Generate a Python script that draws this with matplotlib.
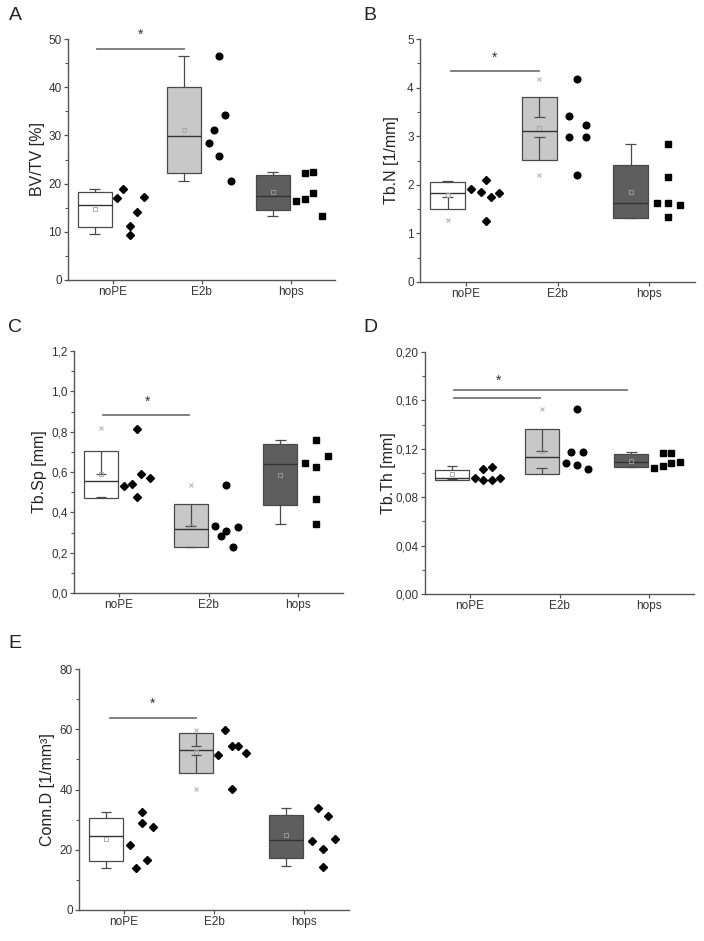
import numpy as np
import matplotlib.pyplot as plt
from matplotlib.ticker import MultipleLocator, FuncFormatter

plt.rcParams['font.family'] = ['Liberation Sans', 'DejaVu Sans']

groups = ["noPE", "E2b", "hops"]

# ---- A: BV/TV [%]
bvtv_pts = [[17.0, 18.8, 11.2, 9.4, 14.2, 17.2],
            [28.5, 31.2, 46.5, 25.8, 34.2, 20.6],
            [16.3, 22.3, 16.8, 22.4, 18.0, 13.2]]
bvtv_box = [[10.9, 15.6, 18.35], [22.2, 29.85, 40.0], [14.5, 17.4, 21.8]]   # q1, median, q3
bvtv_whisk = [[9.5, 18.8], [20.5, 46.5], [13.2, 22.4]]
bvtv_mean = [14.7, 31.2, 18.35]
bvtv_extra = [[], [], []]
bvtv_sig = [(0.83, 1.8, 47.9)]
bvtv_star = 50.8

# ---- B: Tb.N [1/mm]
tbn_pts = [[1.92, 1.85, 2.09, 1.26, 1.74, 1.83],
           [3.41, 2.98, 4.17, 2.21, 3.23, 2.98],
           [1.63, 2.83, 2.16, 1.63, 1.33, 1.59]]
tbn_box = [[1.50, 1.84, 2.06], [2.52, 3.10, 3.80], [1.32, 1.63, 2.41]]
tbn_whisk = [[1.74, 2.08], [2.98, 3.40], [1.32, 2.83]]
tbn_mean = [1.80, 3.17, 1.85]
tbn_extra = [[1.27], [4.18, 2.21], []]
tbn_sig = [(0.84, 1.8, 4.35)]
tbn_star = 4.62

# ---- C: Tb.Sp [mm]
tbsp_pts = [[0.531, 0.539, 0.814, 0.478, 0.590, 0.570],
            [0.331, 0.285, 0.536, 0.308, 0.226, 0.328],
            [0.646, 0.758, 0.626, 0.466, 0.340, 0.679]]
tbsp_box = [[0.470, 0.554, 0.705], [0.229, 0.316, 0.440], [0.434, 0.638, 0.738]]
tbsp_whisk = [[0.475, 0.590], [0.229, 0.330], [0.341, 0.758]]
tbsp_mean = [0.590, 0.330, 0.585]
tbsp_extra = [[0.816], [0.536], []]
tbsp_sig = [(0.82, 1.78, 0.882)]
tbsp_star = 0.948

# ---- D: Tb.Th [mm]
tbth_pts = [[0.0962, 0.1030, 0.0945, 0.1052, 0.0945, 0.0962],
            [0.1080, 0.1176, 0.1527, 0.1063, 0.1170, 0.1036],
            [0.1044, 0.1168, 0.1060, 0.1168, 0.1082, 0.1090]]
tbth_box = [[0.0940, 0.0962, 0.1025], [0.0995, 0.1130, 0.1360], [0.1049, 0.1088, 0.1154]]
tbth_whisk = [[0.0948, 0.1055], [0.1040, 0.1180], [0.1050, 0.1170]]
tbth_mean = [0.0992, 0.1180, 0.1100]
tbth_extra = [[], [0.153], []]
tbth_sig = [(0.82, 2.75, 0.1687), (0.82, 1.78, 0.1618)]
tbth_star = 0.176

# ---- E: Conn.D [1/mm³]
conn_pts = [[21.5, 14.0, 32.5, 29.0, 16.5, 27.6],
            [51.4, 59.9, 54.4, 40.1, 54.4, 52.0],
            [22.8, 33.9, 20.4, 14.4, 31.1, 23.7]]
conn_box = [[16.2, 24.5, 30.7], [45.4, 53.2, 58.6], [17.3, 23.4, 31.5]]
conn_whisk = [[14.0, 32.5], [51.4, 54.4], [14.5, 33.9]]
conn_mean = [23.5, 52.3, 24.9]
conn_extra = [[], [59.9, 40.1], []]
conn_sig = [(0.84, 1.8, 63.8)]
conn_star = 68.5

# horizontal spread of the dots beside each box (layout only)
jit_a = [[0.05, 0.12, 0.2, 0.2, 0.27, 0.35], [0.08, 0.14, 0.2, 0.2, 0.26, 0.33],
         [0.06, 0.16, 0.16, 0.25, 0.25, 0.35]]
jit_b = [[0.06, 0.16, 0.22, 0.22, 0.27, 0.36], [0.12, 0.12, 0.21, 0.21, 0.31, 0.31],
         [0.08, 0.2, 0.2, 0.2, 0.2, 0.34]]
jit_c = [[0.06, 0.15, 0.2, 0.2, 0.25, 0.35], [0.075, 0.14, 0.2, 0.2, 0.27, 0.33],
         [0.075, 0.2, 0.2, 0.2, 0.2, 0.33]]
jit_d = [[0.06, 0.15, 0.15, 0.245, 0.245, 0.34], [0.07, 0.13, 0.2, 0.2, 0.26, 0.32],
         [0.055, 0.15, 0.15, 0.245, 0.245, 0.34]]
jit_e = [[0.067, 0.13, 0.2, 0.2, 0.26, 0.32], [0.045, 0.12, 0.2, 0.2, 0.27, 0.35],
         [0.085, 0.15, 0.21, 0.21, 0.27, 0.34]]

W, H = 704, 941
fig = plt.figure(figsize=(W / 100, H / 100), dpi=100)

box_fill = ["white", "#c8c8c8", "#5e5e5e"]
edge = "#4a4a4a"
box_off, box_w, cap_w = -0.2, 0.38, 0.12


def add_ax(l, r, t, b):
    return fig.add_axes([l / W, 1 - b / H, (r - l) / W, (b - t) / H])


def comma(dec):
    return FuncFormatter(lambda v, p: f"{v:.{dec}f}".replace(".", ","))


def panel(ax, pts, box, whisk, mean, extra, jit, markers, sig, star_y,
          ylim, major, minor, dec, ylabel, tickfont, tsize, label_dx):
    x = np.arange(1, 4)
    for i in range(3):
        xc = x[i] + box_off
        q1, med, q3 = box[i]
        lo, hi = whisk[i]
        ax.bar(xc, q3 - q1, bottom=q1, width=box_w, color=box_fill[i],
               edgecolor=edge, linewidth=0.9, zorder=2)
        ax.hlines(med, xc - box_w / 2, xc + box_w / 2, color="#333333", lw=1.0, zorder=3)
        ax.vlines(xc, q3, hi, color=edge, lw=0.9, zorder=3)
        ax.vlines(xc, q1, lo, color=edge, lw=0.9, zorder=3)
        ax.hlines([lo, hi], xc - cap_w / 2, xc + cap_w / 2, color=edge, lw=0.9, zorder=3)
        ax.plot(xc, mean[i], marker="s", ms=3, mfc="none", mec="#a0a0a0", mew=0.6, zorder=4)
        if extra[i]:
            ax.plot([xc] * len(extra[i]), extra[i], "x", ms=2.5, color="#a0a0a0", mew=0.6, zorder=4)
        m, ms = markers[i]
        ax.plot(x[i] + np.array(jit[i]), pts[i], m, ms=ms, color="black",
                linestyle="none", zorder=5)
    for x0, x1, y in sig:
        ax.plot([x0, x1], [y, y], color="#777777", lw=1.3, clip_on=False, zorder=1)
    ax.text(1.315, star_y, "*", ha="center", va="center", fontsize=10, color="#333333",
            clip_on=False)
    ax.set_xlim(0.5, 3.5)
    ax.set_ylim(*ylim)
    ax.set_xticks(x)
    ax.set_xticklabels(groups)
    ax.yaxis.set_major_locator(MultipleLocator(major))
    ax.yaxis.set_minor_locator(MultipleLocator(minor))
    if dec is not None:
        ax.yaxis.set_major_formatter(comma(dec))
    for s in ["top", "right"]:
        ax.spines[s].set_visible(False)
    for s in ["left", "bottom"]:
        ax.spines[s].set_color("#555555")
        ax.spines[s].set_linewidth(1.0)
    ax.tick_params(which="major", direction="out", length=3, width=0.9, color="#555555",
                   labelsize=tsize, labelcolor="#333333", pad=1.5)
    ax.tick_params(which="minor", direction="out", length=2, width=0.8, color="#555555")
    ax.tick_params(axis="x", which="minor", bottom=False)
    for lab in ax.get_xticklabels() + ax.get_yticklabels():
        lab.set_family(tickfont)
    ax.set_ylabel(ylabel, fontsize=11.5, color="#222222")
    ax.yaxis.set_label_coords(label_dx, 0.5)


dia, circ, sq = ("D", 4.0), ("o", 4.8), ("s", 3.8)
narrow = ["Liberation Sans Narrow", "Liberation Sans", "DejaVu Sans"]

ax_a = add_ax(68, 335, 39, 280)
panel(ax_a, bvtv_pts, bvtv_box, bvtv_whisk, bvtv_mean, bvtv_extra, jit_a,
      [dia, circ, sq], bvtv_sig, bvtv_star, (0, 50), 10, 5, None,
      "BV/TV [%]", narrow, 8.5, -23 / 267)

ax_b = add_ax(420, 695, 39, 282)
panel(ax_b, tbn_pts, tbn_box, tbn_whisk, tbn_mean, tbn_extra, jit_b,
      [dia, circ, sq], tbn_sig, tbn_star, (0, 5), 1, 0.5, None,
      "Tb.N [1/mm]", narrow, 8.5, -21 / 275)

ax_c = add_ax(74, 343, 351, 593)
panel(ax_c, tbsp_pts, tbsp_box, tbsp_whisk, tbsp_mean, tbsp_extra, jit_c,
      [dia, circ, sq], tbsp_sig, tbsp_star, (0, 1.2), 0.2, 0.1, 1,
      "Tb.Sp [mm]", narrow, 8.5, -27 / 269)

ax_d = add_ax(425, 694, 352, 594)
panel(ax_d, tbth_pts, tbth_box, tbth_whisk, tbth_mean, tbth_extra, jit_d,
      [dia, circ, sq], tbth_sig, tbth_star, (0, 0.2), 0.04, 0.02, 2,
      "Tb.Th [mm]", narrow, 8.5, -29 / 269)

ax_e = add_ax(79, 349, 669, 910)
panel(ax_e, conn_pts, conn_box, conn_whisk, conn_mean, conn_extra, jit_e,
      [dia, dia, dia], conn_sig, conn_star, (0, 80), 20, 10, None,
      "Conn.D [1/mm³]", ["Liberation Sans", "DejaVu Sans"], 8.5, -24 / 270)

for letter, px, py in [("A", 15, 16), ("B", 370, 16), ("C", 15, 327),
                       ("D", 370, 327), ("E", 15, 643)]:
    fig.text(px / W, 1 - py / H, letter, ha="center", va="center", fontsize=14,
             color="#222222")

fig.savefig("out.png", dpi=100)
